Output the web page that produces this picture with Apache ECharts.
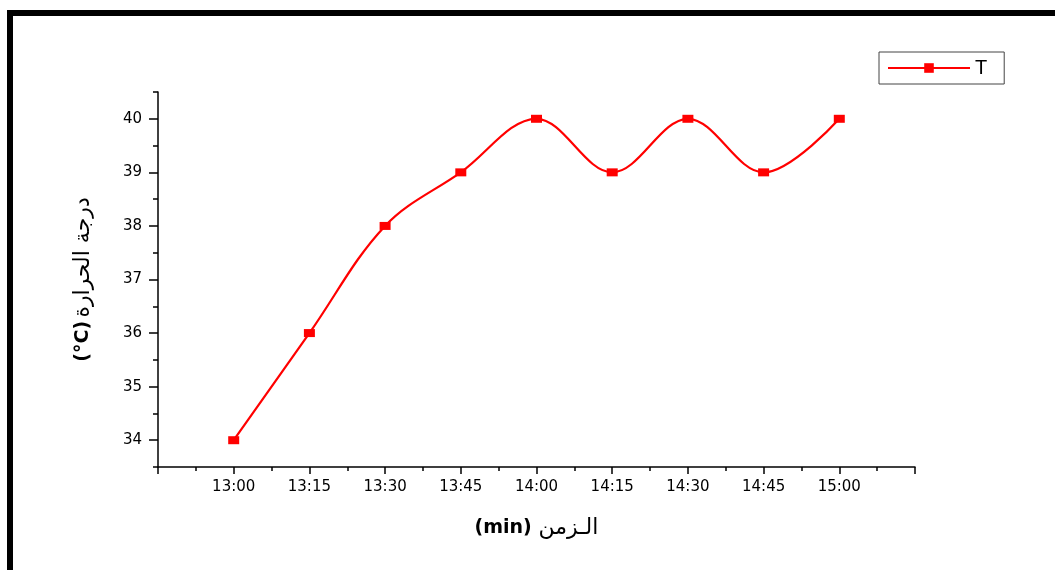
<!DOCTYPE html>
<html>
<head>
<meta charset="utf-8">
<script src="https://cdn.jsdelivr.net/npm/echarts@6/dist/echarts.min.js"></script>
<style>
    html, body {margin: 0; padding: 0; background: #ffffff;}
    #temp-chart {width: 1055px; height: 570px;}
</style>
</head>
<body>
<div id="temp-chart"></div>
<script>
// 时间点与温度
let times = ['13:00', '13:15', '13:30', '13:45', '14:00', '14:15', '14:30', '14:45', '15:00'];
let temps = [34, 36, 38, 39, 40, 39, 40, 39, 40];
let yMajor = [34, 35, 36, 37, 38, 39, 40];
let yMinor = [33.5, 34.5, 35.5, 36.5, 37.5, 38.5, 39.5, 40.5];

// 'HH:MM' -> minutes after 13:00
let toMin = (t) => {
    let p = t.split(':');
    return (parseInt(p[0]) - 13) * 60 + parseInt(p[1]);
};
let fromMin = (m) => {
    let h = 13 + Math.floor(m / 60);
    let mm = m % 60;
    return h + ':' + (mm < 10 ? '0' + mm : mm);
};

let points = times.map((t, i) => [toMin(t), temps[i]]);
let tickFont = 'DejaVu Sans';
let nameRich = {
    b: {fontSize: 19, fontWeight: 'bold', color: '#000', fontFamily: tickFont},
    a: {fontSize: 22, fontWeight: 'normal', color: '#000', fontFamily: tickFont}
};

let option = {
    animation: false,
    backgroundColor: '#ffffff',
    graphic: [
        {type: 'rect', shape: {x: 7, y: 10, width: 1048, height: 6}, style: {fill: '#000'}},
        {type: 'rect', shape: {x: 7, y: 10, width: 6, height: 560}, style: {fill: '#000'}}
    ],
    legend: {
        left: 879,
        top: 52,
        padding: [6, 17, 6, 8],
        borderColor: '#444',
        borderWidth: 1,
        borderRadius: 0,
        itemWidth: 82,
        itemHeight: 12,
        itemGap: 5,
        textStyle: {fontSize: 20, color: '#000', fontFamily: 'Liberation Sans'},
        data: ['T']
    },
    grid: {
        left: 158,
        right: 140,
        top: 92,
        bottom: 103,
        containLabel: false
    },
    xAxis: {
        type: 'value',
        min: -15,
        max: 135,
        interval: 15,
        name: '{b|(min)}  {a|الـزمن}',
        nameLocation: 'middle',
        nameGap: 50,
        nameTextStyle: {rich: nameRich},
        axisLine: {onZero: false, lineStyle: {color: '#000', width: 1.5}},
        axisTick: {inside: false, length: 7, lineStyle: {color: '#000', width: 1.5}},
        minorTick: {show: true, splitNumber: 2, length: 4, lineStyle: {color: '#000', width: 1.5}},
        splitLine: {show: false},
        axisLabel: {
            color: '#000',
            fontSize: 15,
            fontFamily: tickFont,
            margin: 13,
            formatter: (v) => {
                if (v < 0 || v > 120) {
                    return '';
                }
                return fromMin(v);
            }
        }
    },
    yAxis: [
        {
            type: 'value',
            min: 33.5,
            max: 40.5,
            position: 'left',
            name: '{b|(°C)} {a|درجة الحرارة}',
            nameLocation: 'middle',
            nameRotate: 90,
            nameGap: 64,
            nameTextStyle: {rich: nameRich},
            axisLine: {show: true, onZero: false, lineStyle: {color: '#000', width: 1.5}},
            axisTick: {show: true, inside: false, length: 9, customValues: yMajor, lineStyle: {color: '#000', width: 1.5}},
            splitLine: {show: false},
            axisLabel: {
                color: '#000',
                fontSize: 15,
                fontFamily: tickFont,
                margin: 16,
                customValues: yMajor
            }
        },
        {
            type: 'value',
            min: 33.5,
            max: 40.5,
            position: 'left',
            offset: 0,
            axisLine: {show: false, onZero: false},
            axisTick: {show: true, inside: false, length: 5, customValues: yMinor, lineStyle: {color: '#000', width: 1.5}},
            axisLabel: {show: false},
            splitLine: {show: false}
        }
    ],
    series: [
        {
            name: 'T',
            type: 'line',
            smooth: 0.36,
            data: points,
            symbol: 'rect',
            symbolSize: [11, 8],
            lineStyle: {color: '#ff0000', width: 2.2},
            itemStyle: {color: '#ff0000'}
        }
    ]
};

let chart = echarts.init(document.getElementById('temp-chart'));
chart.setOption(option);
</script>
</body>
</html>
